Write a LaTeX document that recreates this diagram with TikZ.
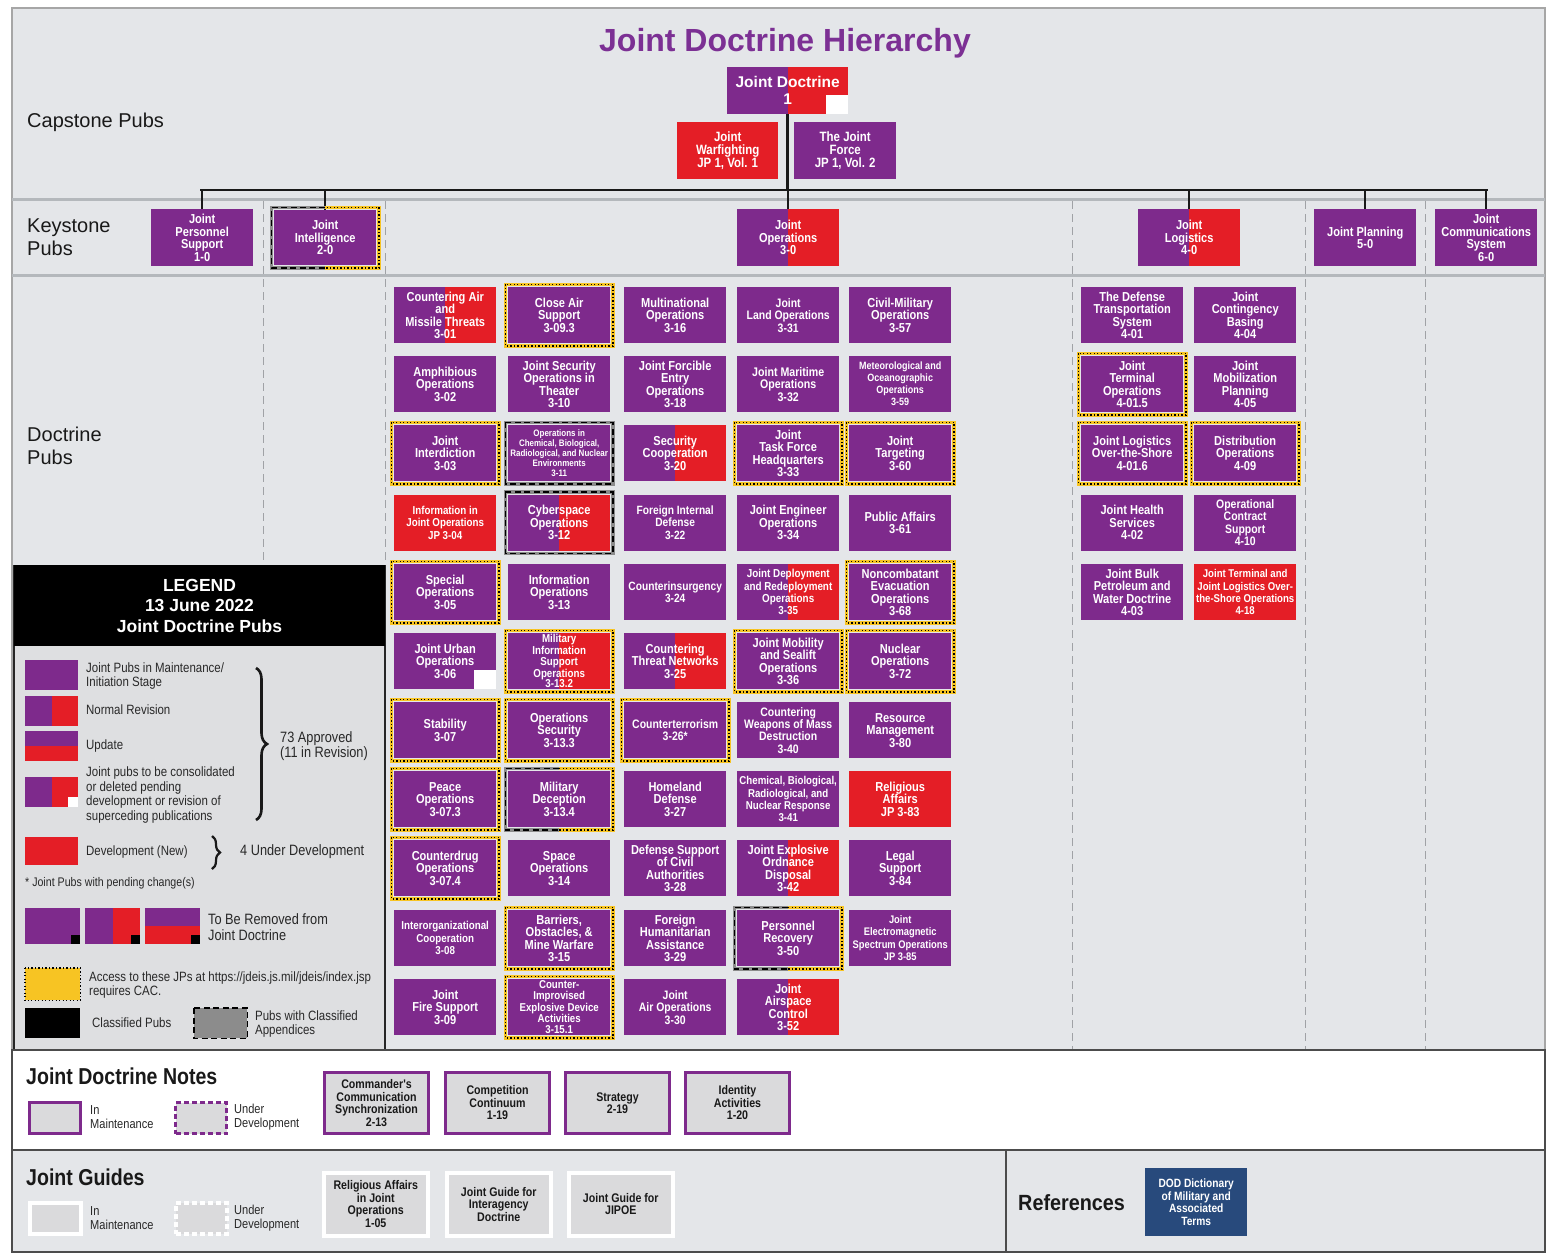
\documentclass[tikz,border=0pt]{standalone}
\usepackage{fontspec}
\setmainfont{Liberation Sans}
\newfontfamily\nf[FakeStretch=0.85]{Liberation Sans}
\usetikzlibrary{calc,decorations.pathreplacing}
\definecolor{jpurple}{RGB}{126,42,140}
\definecolor{jred}{RGB}{228,30,38}
\definecolor{bg}{RGB}{228,230,233}
\definecolor{lbg}{RGB}{222,223,225}
\definecolor{cacy}{RGB}{247,196,35}
\definecolor{titlep}{RGB}{124,48,148}
\definecolor{dblue}{RGB}{40,74,124}
\definecolor{notegray}{RGB}{218,218,220}
\definecolor{sepgray}{RGB}{180,184,188}
\definecolor{txtgray}{RGB}{40,40,40}
\definecolor{dashg}{RGB}{160,162,166}
\tikzset{
  pub/.style={rectangle, fill=jpurple, text=white, minimum width=102pt, minimum height=56pt,
    inner sep=1pt, align=center, anchor=north west, font=\nf\bfseries\fontsize{13}{12.5}\selectfont},
  fs/.style n args={2}{font=\nf\bfseries\fontsize{#1}{#2}\selectfont},
  dev/.style={fill=jred},
  rev/.style={path picture={\fill[jred] (path picture bounding box.north) rectangle (path picture bounding box.south east);}},
  msq/.style={path picture={\fill[white] ([xshift=-22pt,yshift=19pt]path picture bounding box.south east) rectangle (path picture bounding box.south east);}},
  revsq/.style={path picture={\fill[jred] (path picture bounding box.north) rectangle (path picture bounding box.south east);
     \fill[white] ([xshift=-22pt,yshift=19pt]path picture bounding box.south east) rectangle (path picture bounding box.south east);}},
  sw/.style={rectangle, fill=jpurple, minimum width=53pt, minimum height=30pt, inner sep=0pt, anchor=north west},
  upd/.style={path picture={\fill[jred] (path picture bounding box.west) rectangle (path picture bounding box.south east);}},
  revwsq/.style={path picture={\fill[jred] (path picture bounding box.north) rectangle (path picture bounding box.south east);
     \fill[white] ([xshift=-10pt,yshift=10pt]path picture bounding box.south east) rectangle (path picture bounding box.south east);}},
  pbsq/.style={path picture={\fill[black] ([xshift=-9pt,yshift=9pt]path picture bounding box.south east) rectangle (path picture bounding box.south east);}},
  rbsq/.style={path picture={\fill[jred] (path picture bounding box.north) rectangle (path picture bounding box.south east);
     \fill[black] ([xshift=-9pt,yshift=9pt]path picture bounding box.south east) rectangle (path picture bounding box.south east);}},
  ubsq/.style={path picture={\fill[jred] (path picture bounding box.west) rectangle (path picture bounding box.south east);
     \fill[black] ([xshift=-9pt,yshift=9pt]path picture bounding box.south east) rectangle (path picture bounding box.south east);}},
  cacfy/.style={line width=3.2pt, draw=cacy},
  cacfb/.style={line width=1.3pt, draw=black, dash pattern=on 1.3pt off 2.2pt},
  clsg/.style={line width=3.6pt, draw=black!45},
  clsb/.style={line width=1.8pt, draw=black, dash pattern=on 6pt off 3.5pt},
  conn/.style={line width=2.5pt, draw=black!90},
  vdash/.style={line width=1pt, draw=dashg, dash pattern=on 8pt off 5pt},
  sep/.style={line width=3pt, draw=sepgray},
  ltxt/.style={anchor=west, align=left, inner sep=0pt, text=txtgray, font=\nf\fontsize{13.5}{14.5}\selectfont},
  btxt/.style={anchor=west, align=left, inner sep=0pt, text=txtgray, font=\nf\fontsize{15}{15.5}\selectfont},
  seclabel/.style={anchor=west, align=left, inner sep=0pt, text=black!90, font=\fontsize{20}{23}\selectfont},
  notebox/.style={rectangle, draw=jpurple, line width=3pt, fill=notegray, anchor=north west, align=center,
    minimum width=104pt, minimum height=61pt, inner sep=1pt, text=black!90, font=\nf\bfseries\fontsize{12.5}{12.5}\selectfont},
  guidebox/.style={rectangle, draw=white, line width=3.5pt, fill=notegray, anchor=north west, align=center,
    minimum width=104pt, minimum height=63pt, inner sep=1pt, text=black!90, font=\nf\bfseries\fontsize{12.5}{12.5}\selectfont},
}
\newcommand\cacf[1]{%
  \draw[cacfy] ([xshift=-2.6pt,yshift=2.6pt]#1.north west) rectangle ([xshift=2.6pt,yshift=-2.6pt]#1.south east);
  \draw[cacfb] ([xshift=-2.6pt,yshift=2.6pt]#1.north west) rectangle ([xshift=2.6pt,yshift=-2.6pt]#1.south east);}
\newcommand\clsf[1]{%
  \draw[clsg] ([xshift=-2.6pt,yshift=2.6pt]#1.north west) rectangle ([xshift=2.6pt,yshift=-2.6pt]#1.south east);
  \draw[clsb] ([xshift=-2.6pt,yshift=2.6pt]#1.north west) rectangle ([xshift=2.6pt,yshift=-2.6pt]#1.south east);}
\newcommand\halff[1]{%
  \cacf{#1}%
  \draw[clsg] ([yshift=2.6pt]#1.north) -- ([xshift=-2.6pt,yshift=2.6pt]#1.north west) -- ([xshift=-2.6pt,yshift=-2.6pt]#1.south west) -- ([yshift=-2.6pt]#1.south);
  \draw[clsb] ([yshift=2.6pt]#1.north) -- ([xshift=-2.6pt,yshift=2.6pt]#1.north west) -- ([xshift=-2.6pt,yshift=-2.6pt]#1.south west) -- ([yshift=-2.6pt]#1.south);}
\begin{document}
\begin{tikzpicture}[x=1pt,y=-1pt]
\useasboundingbox (0,0) rectangle (1549,1254);
\fill[white] (0,0) rectangle (1549,1254);
% main panel
\fill[bg] (12,8) rectangle (1545,1050);
\draw[black!35,line width=1.2pt] (12,8) rectangle (1545,1050);
\draw[sep] (12,199) -- (1545,199);
\draw[sep] (12,275) -- (1545,275);
% dashed column separators
\draw[vdash] (263,201) -- (263,565);
\draw[vdash] (385,201) -- (385,565);
\draw[vdash] (1072,201) -- (1072,1049);
\draw[vdash] (1305,201) -- (1305,1049);
\draw[vdash] (1425,201) -- (1425,1049);

% title & section labels
\node[font=\bfseries\fontsize{32}{36}\selectfont, text=titlep, inner sep=0pt] (title) at (785,43) {Joint Doctrine Hierarchy};
\node[seclabel] (capl) at (27,122) {Capstone Pubs};
\node[seclabel] (keyl) at (27,237) {Keystone\\Pubs};
\node[seclabel] (docl) at (27,446) {Doctrine\\Pubs};

% capstone
\node[pub, revsq, minimum width=121pt, minimum height=47pt, font=\bfseries\fontsize{15.5}{17}\selectfont] (jd1) at (727,67) {Joint Doctrine\\1};
\node[pub, dev, minimum width=101pt, minimum height=57pt, fs={13.5}{13}] (cs1) at (677,122) {Joint\\Warfighting\\JP 1, Vol. 1};
\node[pub, minimum height=57pt, fs={13.5}{13}] (cs2) at (794,122) {The Joint\\Force\\JP 1, Vol. 2};

% keystone
\node[pub, minimum height=57pt] (ks1) at (151,209) {Joint\\Personnel\\Support\\1-0};
\node[pub, minimum height=55pt] (ks2) at (274,210) {Joint\\Intelligence\\2-0};
\node[pub, rev, minimum height=57pt] (ks3) at (737,209) {Joint\\Operations\\3-0};
\node[pub, rev, minimum height=57pt] (ks4) at (1138,209) {Joint\\Logistics\\4-0};
\node[pub, minimum height=57pt] (ks5) at (1314,209) {Joint Planning\\5-0};
\node[pub, minimum height=57pt] (ks6) at (1435,209) {Joint\\Communications\\System\\6-0};

% connectors
\coordinate (hl) at (201,190);
\coordinate (hr) at (1487,190);
\draw[conn] (jd1.south) -- (jd1.south |- hl);
\draw[conn, line cap=rect] (hl) -- (hr);
\draw[conn] (ks1.north |- hl) -- (ks1.north);
\draw[conn] (ks2.north |- hl) -- (ks2.north);
\draw[conn] (ks3.north |- hl) -- (ks3.north);
\draw[conn] (ks4.north |- hl) -- (ks4.north);
\draw[conn] (ks5.north |- hl) -- (ks5.north);
\draw[conn] (ks6.north |- hl) -- (ks6.north);
\halff{ks2}

% column 1
\node[pub, rev] (a1) at (394,287) {Countering Air\\and\\Missile Threats\\3-01};
\node[pub] (a2) at (394,356) {Amphibious\\Operations\\3-02};
\node[pub] (a3) at (394,425) {Joint\\Interdiction\\3-03};
\node[pub, dev, fs={11.5}{12.5}] (a4) at (394,494.5) {Information in\\Joint Operations\\JP 3-04};
\node[pub] (a5) at (394,564) {Special\\Operations\\3-05};
\node[pub, msq] (a6) at (394,633) {Joint Urban\\Operations\\3-06};
\node[pub] (a7) at (394,702) {Stability\\3-07};
\node[pub] (a8) at (394,771) {Peace\\Operations\\3-07.3};
\node[pub] (a9) at (394,840) {Counterdrug\\Operations\\3-07.4};
\node[pub, fs={11.5}{12.5}] (a10) at (394,910) {Interorganizational\\Cooperation\\3-08};
\node[pub] (a11) at (394,979) {Joint\\Fire Support\\3-09};
\cacf{a3}\cacf{a5}\cacf{a7}\cacf{a8}\cacf{a9}

% column 2
\node[pub] (b1) at (508,287) {Close Air\\Support\\3-09.3};
\node[pub] (b2) at (508,356) {Joint Security\\Operations in\\Theater\\3-10};
\node[pub, fs={9.4}{9.8}] (b3) at (508,425) {Operations in\\Chemical, Biological,\\Radiological, and Nuclear\\Environments\\3-11};
\node[pub, rev] (b4) at (508,494.5) {Cyberspace\\Operations\\3-12};
\node[pub] (b5) at (508,564) {Information\\Operations\\3-13};
\node[pub, rev, fs={11.5}{10.6}] (b6) at (508,633) {Military\\Information\\Support\\Operations\\3-13.2};
\node[pub] (b7) at (508,702) {Operations\\Security\\3-13.3};
\node[pub] (b8) at (508,771) {Military\\Deception\\3-13.4};
\node[pub] (b9) at (508,840) {Space\\Operations\\3-14};
\node[pub] (b10) at (508,910) {Barriers,\\Obstacles, \&\\Mine Warfare\\3-15};
\node[pub, fs={11.4}{10.6}] (b11) at (508,979) {Counter-\\Improvised\\Explosive Device\\Activities\\3-15.1};
\cacf{b1}\clsf{b3}\clsf{b4}\cacf{b6}\cacf{b7}\halff{b8}\cacf{b10}\cacf{b11}

% column 3
\node[pub] (c1) at (624,287) {Multinational\\Operations\\3-16};
\node[pub] (c2) at (624,356) {Joint Forcible\\Entry\\Operations\\3-18};
\node[pub, rev] (c3) at (624,425) {Security\\Cooperation\\3-20};
\node[pub, fs={12}{12.5}] (c4) at (624,494.5) {Foreign Internal\\Defense\\3-22};
\node[pub, fs={12}{12.5}] (c5) at (624,564) {Counterinsurgency\\3-24};
\node[pub, rev] (c6) at (624,633) {Countering\\Threat Networks\\3-25};
\node[pub, fs={12.3}{12.5}] (c7) at (624,702) {Counterterrorism\\3-26*};
\node[pub] (c8) at (624,771) {Homeland\\Defense\\3-27};
\node[pub] (c9) at (624,840) {Defense Support\\of Civil\\Authorities\\3-28};
\node[pub] (c10) at (624,910) {Foreign\\Humanitarian\\Assistance\\3-29};
\node[pub, fs={12.3}{12.5}] (c11) at (624,979) {Joint\\Air Operations\\3-30};
\cacf{c7}

% column 4
\node[pub, fs={12.3}{12.5}] (d1) at (737,287) {Joint\\Land Operations\\3-31};
\node[pub, fs={12.5}{12.5}] (d2) at (737,356) {Joint Maritime\\Operations\\3-32};
\node[pub] (d3) at (737,425) {Joint\\Task Force\\Headquarters\\3-33};
\node[pub] (d4) at (737,494.5) {Joint Engineer\\Operations\\3-34};
\node[pub, rev, fs={11.6}{12.3}] (d5) at (737,564) {Joint Deployment\\and Redeployment\\Operations\\3-35};
\node[pub, fs={12.3}{12.3}] (d7) at (737,702) {Countering\\Weapons of Mass\\Destruction\\3-40};
\node[pub] (d6) at (737,633) {Joint Mobility\\and Sealift\\Operations\\3-36};
\node[pub, fs={11.4}{12.3}] (d8) at (737,771) {Chemical, Biological,\\Radiological, and\\Nuclear Response\\3-41};
\node[pub, rev] (d9) at (737,840) {Joint Explosive\\Ordnance\\Disposal\\3-42};
\node[pub] (d10) at (737,910) {Personnel\\Recovery\\3-50};
\node[pub, rev] (d11) at (737,979) {Joint\\Airspace\\Control\\3-52};
\cacf{d3}\cacf{d6}\halff{d10}

% column 5
\node[pub] (e1) at (849,287) {Civil-Military\\Operations\\3-57};
\node[pub, fs={10.6}{12}] (e2) at (849,356) {Meteorological and\\Oceanographic\\Operations\\3-59};
\node[pub] (e3) at (849,425) {Joint\\Targeting\\3-60};
\node[pub] (e4) at (849,494.5) {Public Affairs\\3-61};
\node[pub] (e5) at (849,564) {Noncombatant\\Evacuation\\Operations\\3-68};
\node[pub] (e6) at (849,633) {Nuclear\\Operations\\3-72};
\node[pub] (e7) at (849,702) {Resource\\Management\\3-80};
\node[pub, dev] (e8) at (849,771) {Religious\\Affairs\\JP 3-83};
\node[pub] (e9) at (849,840) {Legal\\Support\\3-84};
\node[pub, fs={11}{12.3}] (e10) at (849,910) {Joint\\Electromagnetic\\Spectrum Operations\\JP 3-85};
\cacf{e3}\cacf{e5}\cacf{e6}

% column 6
\node[pub] (f1) at (1081,287) {The Defense\\Transportation\\System\\4-01};
\node[pub] (f2) at (1081,356) {Joint\\Terminal\\Operations\\4-01.5};
\node[pub] (f3) at (1081,425) {Joint Logistics\\Over-the-Shore\\4-01.6};
\node[pub] (f4) at (1081,494.5) {Joint Health\\Services\\4-02};
\node[pub] (f5) at (1081,564) {Joint Bulk\\Petroleum and\\Water Doctrine\\4-03};
\cacf{f2}\cacf{f3}

% column 7
\node[pub] (g1) at (1194,287) {Joint\\Contingency\\Basing\\4-04};
\node[pub] (g2) at (1194,356) {Joint\\Mobilization\\Planning\\4-05};
\node[pub] (g3) at (1194,425) {Distribution\\Operations\\4-09};
\node[pub, fs={12.3}{12.3}] (g4) at (1194,494.5) {Operational\\Contract\\Support\\4-10};
\node[pub, dev, fs={11.3}{12.3}] (g5) at (1194,564) {Joint Terminal and\\Joint Logistics Over-\\the-Shore Operations\\4-18};
\cacf{g3}

% legend
\fill[lbg] (14,646) rectangle (385,1050);
\draw[black!85, line width=1.5pt] (14,565) -- (14,1050);
\draw[black!85, line width=1.5pt] (385,565) -- (385,1050);
\fill[black] (14,565) rectangle (385,646);
\node[font=\bfseries\fontsize{17.5}{20.5}\selectfont, text=white, align=center] (lgh) at (199.5,605.5) {LEGEND\\13 June 2022\\Joint Doctrine Pubs};

\node[sw] (sw1) at (25,660) {};
\node[ltxt] (lt1) at (86,676) {Joint Pubs in Maintenance/\\Initiation Stage};
\node[sw, rev] (sw2) at (25,696) {};
\node[ltxt] (lt2) at (86,710) {Normal Revision};
\node[sw, upd] (sw3) at (25,731) {};
\node[ltxt] (lt3) at (86,746) {Update};
\node[sw, revwsq] (sw4) at (25,777) {};
\node[ltxt] (lt4) at (86,795) {Joint pubs to be consolidated\\or deleted pending\\development or revision of\\superceding publications};
\coordinate (br1a) at (256,668);
\coordinate (br1b) at (256,820);
\draw[line width=2.6pt, black!90, decorate, decoration={brace, amplitude=11pt}] (br1a) -- (br1b);
\node[btxt] (lt5) at (280,746) {73 Approved\\(11 in Revision)};

\node[sw, dev, minimum height=28pt] (sw5) at (25,837) {};
\node[ltxt] (lt6) at (86,852) {Development (New)};
\coordinate (br2a) at (212,836);
\coordinate (br2b) at (212,869);
\draw[line width=2.2pt, black!90, decorate, decoration={brace, amplitude=8pt}] (br2a) -- (br2b);
\node[btxt] (lt7) at (240,852) {4 Under Development};
\node[ltxt, font=\nf\fontsize{12.5}{13}\selectfont] (lt8) at (25,883) {* Joint Pubs with pending change(s)};

\node[sw, pbsq, minimum width=55pt, minimum height=36pt] (sw6) at (25,908) {};
\node[sw, rbsq, minimum width=55pt, minimum height=36pt] (sw7) at (85,908) {};
\node[sw, ubsq, minimum width=55pt, minimum height=36pt] (sw8) at (145,908) {};
\node[btxt] (lt9) at (208,927) {To Be Removed from\\Joint Doctrine};

\node[sw, fill=cacy, minimum width=55pt, minimum height=32pt] (sw9) at (25,968) {};
\draw[cacfb] (sw9.north west) rectangle (sw9.south east);
\node[ltxt] (lt10) at (89,985) {Access to these JPs at https://jdeis.js.mil/jdeis/index.jsp\\requires CAC.};
\node[sw, fill=black, minimum width=55pt] (sw10) at (25,1008) {};
\node[ltxt] (lt11) at (92,1023) {Classified Pubs};
\node[sw, fill=black!45] (sw11) at (194,1008) {};
\draw[clsb, line width=1.6pt] (sw11.north west) rectangle (sw11.south east);
\node[ltxt] (lt12) at (255,1024) {Pubs with Classified\\Appendices};

% Joint Doctrine Notes panel
\fill[white] (12,1050) rectangle (1545,1150);
\draw[black!70, line width=1.5pt] (12,1050) rectangle (1545,1150);
\node[anchor=west, inner sep=0pt, text=black!90, font=\nf\bfseries\fontsize{23}{24}\selectfont] (nt) at (26,1076) {Joint Doctrine Notes};
\node[notebox, minimum width=51pt, minimum height=31pt] (nl1) at (28,1101) {};
\node[ltxt, font=\nf\fontsize{13}{13.5}\selectfont] (nl1t) at (90,1117) {In\\Maintenance};
\node[notebox, dashed, dash pattern=on 5pt off 3pt, minimum width=51pt, minimum height=31pt] (nl2) at (174,1101) {};
\node[ltxt, font=\nf\fontsize{13}{13.5}\selectfont] (nl2t) at (234,1117) {Under\\Development};
\node[notebox] (n1) at (323,1071) {Commander's\\Communication\\Synchronization\\2-13};
\node[notebox] (n2) at (444,1071) {Competition\\Continuum\\1-19};
\node[notebox] (n3) at (564,1071) {Strategy\\2-19};
\node[notebox] (n4) at (684,1071) {Identity\\Activities\\1-20};

% Joint Guides panel
\fill[bg] (12,1150) rectangle (1545,1252);
\draw[black!70, line width=1.5pt] (12,1150) rectangle (1006,1252);
\draw[black!70, line width=1.5pt] (1006,1150) rectangle (1545,1252);
\node[anchor=west, inner sep=0pt, text=black!90, font=\nf\bfseries\fontsize{23}{24}\selectfont] (gt) at (26,1177) {Joint Guides};
\node[guidebox, minimum width=51pt, minimum height=31pt] (gl1) at (28,1201) {};
\node[ltxt, font=\nf\fontsize{13}{13.5}\selectfont] (gl1t) at (90,1218) {In\\Maintenance};
\node[guidebox, dashed, dash pattern=on 5pt off 3pt, minimum width=51pt, minimum height=31pt] (gl2) at (174,1201) {};
\node[ltxt, font=\nf\fontsize{13}{13.5}\selectfont] (gl2t) at (234,1218) {Under\\Development};
\node[guidebox] (g1b) at (322,1171) {Religious Affairs\\in Joint\\Operations\\1-05};
\node[guidebox] (g2b) at (445,1171) {Joint Guide for\\Interagency\\Doctrine};
\node[guidebox] (g3b) at (567,1171) {Joint Guide for\\JIPOE};

% References
\node[anchor=west, inner sep=0pt, text=black!90, font=\bfseries\fontsize{22}{24}\selectfont\addfontfeature{FakeStretch=0.9}] (rt) at (1018,1203) {References};
\node[pub, fill=dblue, minimum width=102pt, minimum height=68pt, fs={12}{12.5}] (ref) at (1145,1168) {DOD Dictionary\\of Military and\\Associated\\Terms};
\end{tikzpicture}
\end{document}
